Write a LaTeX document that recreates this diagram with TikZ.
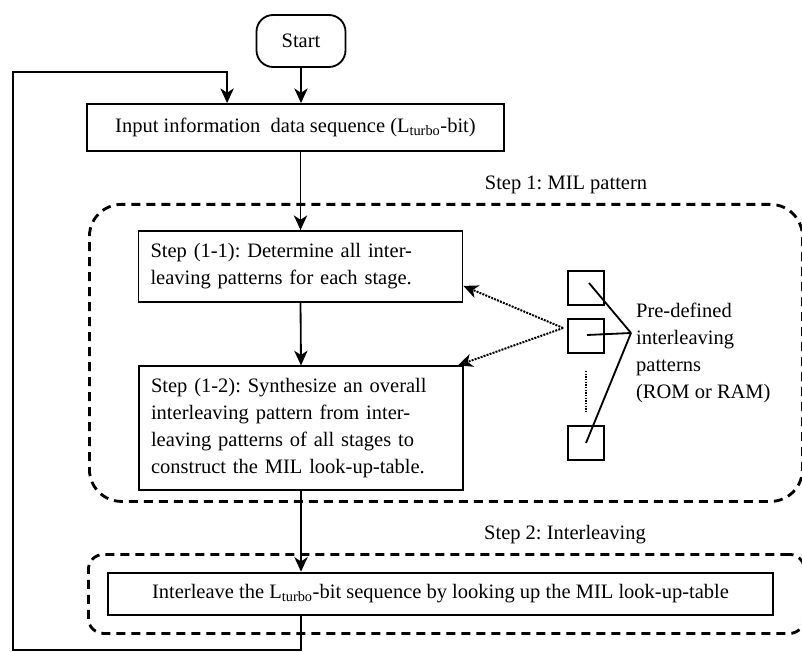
\documentclass[tikz,border=0pt]{standalone}
\usepackage{fontspec}
\setmainfont{Liberation Serif}
\usetikzlibrary{arrows.meta,calc,positioning}
\frenchspacing
\tikzset{
  >={Stealth[length=4.4mm,width=4mm,inset=1.3mm]},
  every node/.style={font=\fontsize{17.5}{23}\selectfont},
  procbox/.style={draw, line width=0.55mm, inner sep=3.6mm, align=center},
  stepbox/.style={procbox, align=left, text width=90mm},
  termbox/.style={draw, line width=0.55mm, rounded corners=5mm, minimum width=26.7mm, minimum height=15.6mm},
  patbox/.style={draw, line width=0.5mm, minimum width=10.8mm, minimum height=10.2mm, inner sep=0pt},
  zone/.style={draw, line width=0.85mm, dash pattern=on 2.7mm off 1.8mm, anchor=north west, inner sep=0pt},
  flow/.style={->, line width=0.55mm},
  plain/.style={line width=0.55mm},
  lookup/.style={->, line width=0.6mm, densely dotted},
}

\begin{document}
\begin{tikzpicture}[x=0.3mm,y=-0.3mm]
  \useasboundingbox (0,0) rectangle (802,652);

  % dashed step regions
  \node[zone, minimum width=213.9mm, minimum height=89.1mm, rounded corners=9.6mm] (milzone) at (88,203) {};
  \node[anchor=south] (millabel) at (566,198) {Step 1: MIL pattern};
  \node[zone, minimum width=214.8mm, minimum height=23.7mm, rounded corners=4.5mm] (intzone) at (87,553) {};
  \node[anchor=south] (intlabel) at (565,548) {Step 2: Interleaving};

  % main flow
  \node[termbox] (start) at (301,41) {Start};
  \node[procbox, minimum width=125.1mm, minimum height=14.1mm] (input) at (295.5,127.5)
    {Input information \ data sequence (L\textsubscript{turbo}-bit)};
  \node[stepbox, minimum height=21.3mm] (step11) at (300.5,266.5)
    {Step (1-1): Determine all inter-\\leaving patterns for each stage.};
  \node[stepbox, minimum height=33mm] (step12) at (301,428)
    {Step (1-2): Synthesize an overall\\interleaving pattern from inter-\\leaving patterns of all stages to\\construct the MIL look-up-table.};
  \node[procbox, minimum width=199.5mm, minimum height=12mm] (inter) at (440.5,594)
    {Interleave the L\textsubscript{turbo}-bit sequence by looking up the MIL look-up-table};

  \draw[flow] (start.south) -- (start.south |- input.north);
  \draw[flow] (step11.north |- input.south) -- (step11.north);
  \draw[flow] (step11.south) -- (step12.north);
  \draw[flow] (step12.south) -- (step12.south |- inter.north);

  % feedback to the next block
  \coordinate (loopbot) at (13,650);
  \coordinate (looptop) at (13,72);
  \draw[flow] (step12.south |- inter.south) |- (loopbot) -- (looptop) -| ($(input.north west)+(141,0)$);

  % stored patterns
  \node[patbox] (pat1) at (586,288) {};
  \node[patbox] (pat2) at (586,336) {};
  \node[patbox] (pat3) at (586,443) {};
  \draw[line width=0.45mm, densely dotted] ($(pat2.south)+(0,17)$) -- ($(pat3.north)+(0,-14)$);
  \coordinate (junc) at (631,333);
  \draw[plain] ($(pat1.center)+(3,-5)$) -- (junc);
  \draw[plain] ($(pat2.center)+(1,-1)$) -- (junc);
  \draw[plain] (pat3.center) -- (junc);
  \node[anchor=west, align=left] (patlabel) at (632,353)
    {Pre-defined\\interleaving\\patterns\\(ROM or RAM)};

  \draw[lookup] ($(pat2.west)+(-4,-8)$) -- ($(step11.south east)+(0,-17)$);
  \draw[lookup] ($(pat2.west)+(-4,-8)$) -- ($(step12.north east)+(-6,0)$);
\end{tikzpicture}
\end{document}
